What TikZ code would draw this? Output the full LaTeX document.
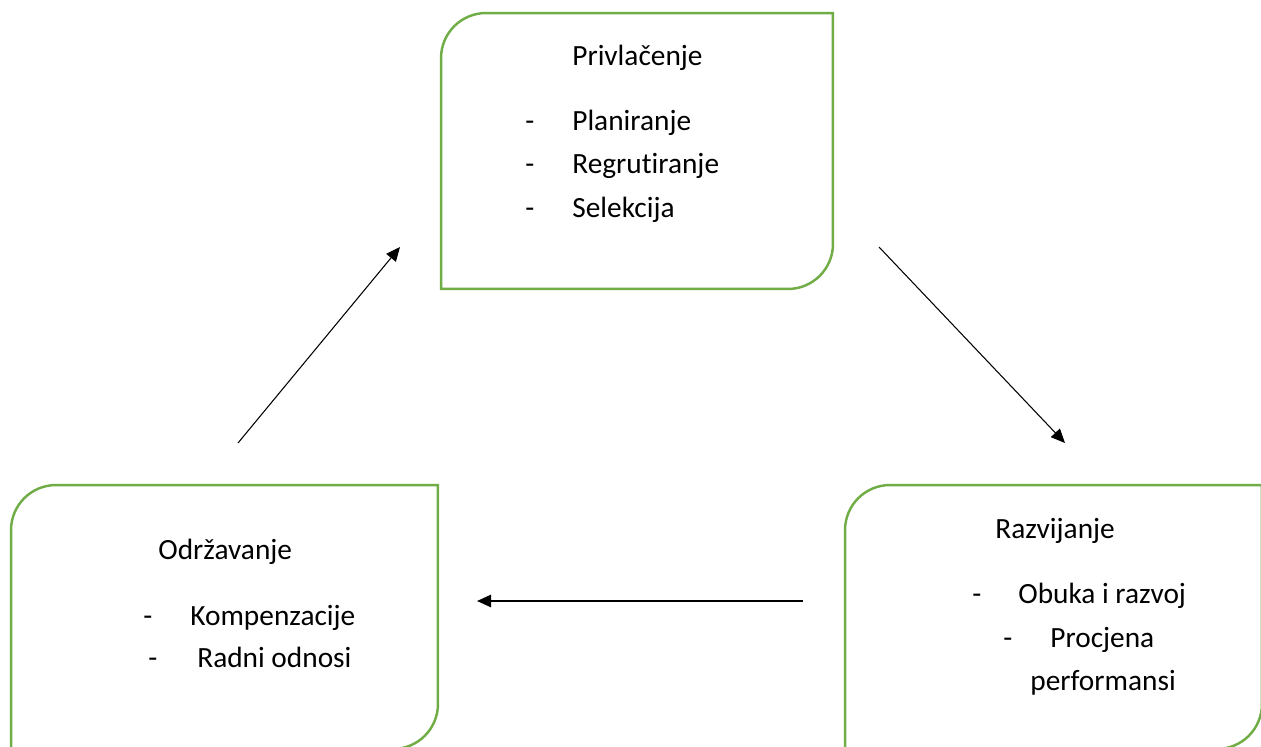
\documentclass[tikz,border=0pt]{standalone}
\usepackage{fontspec}
\setmainfont[Ligatures=NoCommon]{Carlito}
\usetikzlibrary{arrows.meta}
\definecolor{boxgreen}{RGB}{112,173,71}
\begin{document}
\begin{tikzpicture}[
    x=0.02cm, y=-0.02cm,
    phase/.style={minimum width=#1, inner sep=0pt, outer sep=0pt},
    border/.style={draw=boxgreen, line width=1.4pt},
    txt/.style={anchor=base west, inner sep=0pt, font=\fontsize{16.7pt}{20pt}\selectfont},
    arrow/.style={-{Triangle[length=8pt, width=7pt]}, line width=0.6pt},
    thickarrow/.style={-{Triangle[length=8pt, width=7pt]}, line width=1.1pt}
]
    \useasboundingbox (0,0) rectangle (1261,747);

    % Phase 1 - Privlacenje
    \node[phase=7.84cm, minimum height=5.52cm] (privlacenje) at (637,151) {};
    \draw[border] (privlacenje.south west) -- ([yshift=-0.9cm]privlacenje.north west)
        arc[start angle=180, end angle=90, radius=0.9cm] -- (privlacenje.north east)
        -- ([yshift=0.9cm]privlacenje.south east)
        arc[start angle=0, end angle=-90, radius=0.9cm] -- cycle;
    \node[txt] (privtitle) at (572,65) {Privlačenje};
    \node[txt] at (525,130) {-};
    \node[txt] (planiranje) at (572,130) {Planiranje};
    \node[txt] at (525,173) {-};
    \node[txt] (regrutiranje) at (572,173) {Regrutiranje};
    \node[txt] at (525,217) {-};
    \node[txt] (selekcija) at (572,217) {Selekcija};

    % Phase 2 - Razvijanje
    \node[phase=8.34cm, minimum height=5.28cm] (razvijanje) at (1053.5,617) {};
    \draw[border] (razvijanje.south west) -- ([yshift=-0.9cm]razvijanje.north west)
        arc[start angle=180, end angle=90, radius=0.9cm] -- (razvijanje.north east)
        -- ([yshift=0.9cm]razvijanje.south east)
        arc[start angle=0, end angle=-90, radius=0.9cm] -- cycle;
    \node[txt] (razvtitle) at (995,538) {Razvijanje};
    \node[txt] at (972,603) {-};
    \node[txt] (obuka) at (1018,603) {Obuka i razvoj};
    \node[txt] at (1003,647) {-};
    \node[txt] (procjena) at (1050,647) {Procjena};
    \node[txt] (performansi) at (1030,690) {performansi};

    % Phase 3 - Odrzavanje
    \node[phase=8.54cm, minimum height=5.28cm] (odrzavanje) at (224.5,617) {};
    \draw[border] (odrzavanje.south west) -- ([yshift=-0.9cm]odrzavanje.north west)
        arc[start angle=180, end angle=90, radius=0.9cm] -- (odrzavanje.north east)
        -- ([yshift=0.9cm]odrzavanje.south east)
        arc[start angle=0, end angle=-90, radius=0.9cm] -- cycle;
    \node[txt] (odrztitle) at (158,559) {Održavanje};
    \node[txt] at (143,625) {-};
    \node[txt] (kompenzacije) at (190,625) {Kompenzacije};
    \node[txt] at (148,667) {-};
    \node[txt] (odnosi) at (197,667) {Radni odnosi};

    % Arrows
    \coordinate (a1) at (879,247);
    \coordinate (a2) at (1065,443);
    \coordinate (b1) at (803,601);
    \coordinate (b2) at (477,601);
    \coordinate (c1) at (238,443);
    \coordinate (c2) at (400,247);
    \draw[arrow] (a1) -- (a2);
    \draw[thickarrow] (b1) -- (b2);
    \draw[arrow] (c1) -- (c2);
\end{tikzpicture}
\end{document}
